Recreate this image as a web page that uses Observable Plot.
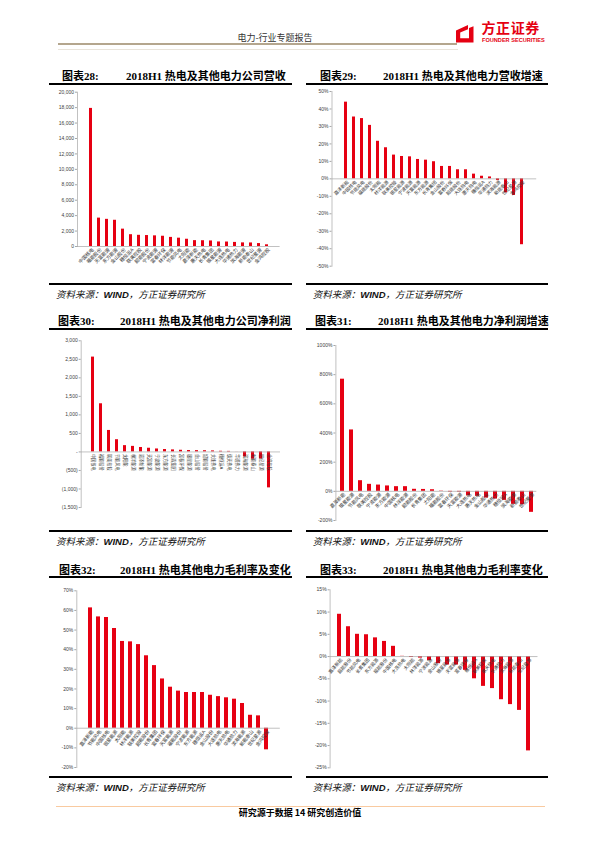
<!DOCTYPE html>
<html><head><meta charset="utf-8">
<script src="https://cdn.jsdelivr.net/npm/d3@7"></script>
<script src="https://cdn.jsdelivr.net/npm/@observablehq/plot@0.6"></script>
<style>
html,body{margin:0;padding:0;background:#fff;}
#page{position:relative;width:600px;height:848px;overflow:hidden;font-family:"Noto Sans CJK SC",sans-serif;background:#fff;}
.box{position:absolute;}
.txt{position:absolute;white-space:nowrap;}
.tt{position:absolute;white-space:nowrap;font-family:"Liberation Serif","Noto Sans CJK SC",serif;font-weight:bold;font-size:11px;line-height:11px;color:#000;}
.src{position:absolute;white-space:nowrap;font-family:"Noto Sans CJK SC",sans-serif;font-style:italic;font-size:9.5px;line-height:10px;color:#111;}
.src b{font-family:"Liberation Sans",sans-serif;font-weight:bold;font-style:italic;}
</style></head>
<body><div id="page"></div>
<script>
// ---------- data ----------
const names28 = ["中国核电","福能股份","天富能源","东方能源","金山股份","穗恒运A","联美控股","韶能股份","宁波能源","富春环保","林洋能源","节能风电","太阳能","嘉泽新能","惠天热电","长青集团","银星能源","大连热电","华通热力","滨海能源","新能泰山","世纪星源","金鸿控股"];
const revenue28 = [17900,3680,3520,3400,2250,1530,1450,1420,1380,1330,1180,1080,940,760,750,720,590,580,530,470,460,380,220];
const ticks28 = [0,2000,4000,6000,8000,10000,12000,14000,16000,18000,20000];

const names29 = ["嘉泽新能","中国核电","节能风电","福能股份","太阳能","林洋能源","联美控股","银星能源","宁波能源","天富能源","东方能源","长青集团","金山股份","富春环保","韶能股份","大连热电","惠天热电","穗恒运A","华通热力","滨海能源","新能泰山","世纪星源","金鸿控股"];
const growth29 = [43.9,35.4,34.5,30.6,21.5,17.8,13.6,12.8,12.6,11.1,10.7,9.8,7.1,7.1,5.2,5.2,2.7,1.5,1.1,-1.0,-8.0,-9.5,-37.7];
const ticks29 = [-50,-40,-30,-20,-10,0,10,20,30,40,50];

const names30 = ["中国核电","福能股份","联美控股","节能风电","太阳能","林洋能源","嘉泽新能","天富能源","宁波能源","东方能源","长青集团","富春环保","银星能源","金山股份","韶能股份","大连热电","穗恒运A","惠天热电","华通热力","滨海能源","新能泰山","世纪星源","金鸿控股"];
const profit30 = [2560,1300,580,330,170,150,120,100,80,65,55,45,38,35,33,28,18,15,2,-135,-195,-190,-970];
const ticks30 = [-1500,-1000,-500,0,500,1000,1500,2000,2500,3000];

const names31 = ["嘉泽新能","银星能源","节能风电","联美控股","宁波能源","东方能源","中国核电","林洋能源","韶能股份","长青集团","太阳能","福能股份","富春环保","天富能源","大连热电","惠天热电","金山股份","华通热力","穗恒运A","滨海能源","新能泰山","世纪星源"];
const growth31 = [769,421,73,48,43,37,32,32,14,13,11,2,-5,-5,-30,-34,-46,-53,-62,-89,-92,-144];
const ticks31 = [-200,0,200,400,600,800,1000];

const names32 = ["嘉泽新能","节能风电","中国核电","银星能源","太阳能","林洋能源","联美控股","韶能股份","长青集团","富春环保","天富能源","福能股份","宁波能源","东方能源","穗恒运A","金山股份","大连热电","惠天热电","华通热力","滨海能源","新能泰山","世纪星源","金鸿控股"];
const margin32 = [61.3,56.7,56.4,50.8,44.2,44.0,42.6,36.9,31.9,25.1,20.9,18.9,18.2,18.2,18.2,16.8,16.1,15.5,14.8,12.6,6.6,6.3,-11.0];
const ticks32 = [-20,-10,0,10,20,30,40,50,60,70];

const names33 = ["嘉泽新能","韶能股份","节能风电","长青集团","东方能源","福能股份","中国核电","大连热电","太阳能","林洋能源","宁波能源","金山股份","银星能源","天富能源","富春环保","穗恒运A","联美控股","惠天热电","华通热力","滨海能源","新能泰山","世纪星源"];
const change33 = [9.5,6.7,5.0,4.9,4.2,3.4,2.3,0.05,-0.2,-0.35,-0.9,-1.6,-1.9,-1.9,-3.1,-5.0,-6.7,-7.2,-9.7,-10.8,-12.1,-21.2];
const ticks33 = [-25,-20,-15,-10,-5,0,5,10,15];

// ---------- page helpers ----------
const page = document.getElementById("page");
function el(cls, html, css) {
  const d = document.createElement("div");
  d.className = cls;
  d.innerHTML = html;
  Object.assign(d.style, css);
  page.appendChild(d);
  return d;
}
function line(left, top, width, height, color) {
  el("box", "", {left: left + "px", top: top + "px", width: width + "px", height: height + "px", background: color});
}

// header
el("txt", "电力-行业专题报告", {left: "237.5px", top: "33px", fontSize: "9px", lineHeight: "10px", color: "#333"});
line(58, 43, 399, 1.5, "#b4a68e");
line(58, 48.5, 400, 1, "#e9e4db");
el("box", '<svg width="20" height="20" viewBox="0 0 20 20"><path fill="#e50012" fill-rule="evenodd" d="M1 7.5 L13 2 L13 6.2 L5.2 9.6 L5.2 15.2 L14 15.2 L14 5 L18.5 3.2 L18.5 19.4 L1 19.4 Z"/></svg>', {left: "455px", top: "22.5px", width: "20px", height: "20px"});
el("txt", "方正证券", {left: "481.5px", top: "20px", fontSize: "14px", lineHeight: "14px", height: "14px", fontWeight: "bold", color: "#e50012", letterSpacing: "0.6px"});
el("txt", "FOUNDER SECURITIES", {left: "482px", top: "38px", fontSize: "5.6px", lineHeight: "5.6px", fontWeight: "bold", color: "#e50012", fontFamily: '"Liberation Sans",sans-serif'});

// footer
line(56, 805.5, 489, 1.5, "#f9caa0");
el("txt", "研究源于数据 14 研究创造价值", {left: "0px", width: "600px", textAlign: "center", top: "808px", fontSize: "9px", lineHeight: "10px", fontWeight: "bold", color: "#000"});

// ---------- chart helper ----------
const fmtComma = d3.format(",");
const fmtPct = d => d + "%";
const fmtAcct = d => d === 0 ? "-" : d < 0 ? "(" + fmtComma(-d) + ")" : fmtComma(d);

function chart(c) {
  const data = c.names.map((name, i) => ({name, value: c.values[i]}));
  const plot = Plot.plot({
    width: c.w, height: c.h,
    marginLeft: c.ml, marginRight: c.mr, marginTop: c.mt, marginBottom: c.mb,
    x: {type: "band", domain: c.names, axis: null, paddingInner: c.pad, paddingOuter: c.pad / 2},
    y: {domain: c.domain, axis: null},
    style: {fontFamily: '"Liberation Sans","Noto Sans CJK SC",sans-serif', overflow: "visible", background: "transparent"},
    marks: [
      Plot.frame({anchor: "left", stroke: "#a6a6a6", strokeWidth: 0.7}),
      Plot.axisY(c.ticks, {label: null, tickFormat: c.fmt, tickSize: 2, tickPadding: 1.5, fontSize: 5, stroke: "#a6a6a6", fill: "#404040"}),
      Plot.barY(data, {x: "name", y: "value", fill: "#e60012"}),
      Plot.ruleY([0], {stroke: "#a6a6a6", strokeWidth: 0.7}),
      Plot.text(data, {x: "name", y: 0, text: "name", rotate: c.rot, textAnchor: c.anchor, dx: c.dx, dy: c.dy, fontSize: c.fs, fill: "#333"})
    ]
  });
  plot.style.position = "absolute";
  plot.style.left = c.left + "px";
  plot.style.top = c.top + "px";
  page.appendChild(plot);
}

function panel(p) {
  el("tt", p.num, {left: p.numX + "px", top: (p.titleY - 5.5) + "px"});
  el("tt", p.title, {left: p.titleX + "px", top: (p.titleY - 5.5) + "px"});
  line(p.x0, p.ulY, p.x1 - p.x0, 2, "#000");
  line(p.x0, p.blY, p.x1 - p.x0, 2, "#000");
  el("src", "资料来源：<b>WIND</b>，方正证券研究所", {left: p.srcX + "px", top: (p.srcY - 5) + "px"});
}

// ---------- panels ----------
panel({num: "图表28:", title: "2018H1 热电及其他电力公司营收", numX: 62, titleX: 126, titleY: 76, x0: 49, x1: 292, ulY: 82.8, blY: 283, srcX: 56, srcY: 294});
panel({num: "图表29:", title: "2018H1 热电及其他电力营收增速", numX: 320, titleX: 383, titleY: 76, x0: 306, x1: 548, ulY: 82.8, blY: 283, srcX: 312.7, srcY: 294});
panel({num: "图表30:", title: "2018H1 热电及其他电力公司净利润", numX: 58, titleX: 120, titleY: 321.7, x0: 49, x1: 292, ulY: 328.3, blY: 529.5, srcX: 56, srcY: 541});
panel({num: "图表31:", title: "2018H1 热电及其他电力净利润增速", numX: 315, titleX: 378, titleY: 321.7, x0: 306, x1: 548, ulY: 328.3, blY: 529.5, srcX: 312.7, srcY: 541});
panel({num: "图表32:", title: "2018H1 热电其他电力毛利率及变化", numX: 59, titleX: 120, titleY: 570, x0: 49, x1: 292, ulY: 576, blY: 776, srcX: 56, srcY: 787});
panel({num: "图表33:", title: "2018H1 热电其他电力毛利率变化", numX: 320, titleX: 383, titleY: 570, x0: 306, x1: 548, ulY: 576, blY: 776, srcX: 312.7, srcY: 787});

chart({names: names28, values: revenue28, ticks: ticks28, fmt: fmtComma, domain: [0, 20000],
  left: 49, top: 86, w: 243, h: 196, ml: 28, mr: 12.4, mt: 5.7, mb: 36, pad: 0.62,
  rot: -45, anchor: "end", dx: 2, dy: 2.5, fs: 4.8});
chart({names: names29, values: growth29, ticks: ticks29, fmt: fmtPct, domain: [-50, 50],
  left: 306, top: 86, w: 242, h: 196, ml: 25.5, mr: 11.8, mt: 5, mb: 16.3, pad: 0.59,
  rot: -45, anchor: "end", dx: 2, dy: 2.5, fs: 4.6});
chart({names: names30, values: profit30, ticks: ticks30, fmt: fmtAcct, domain: [-1500, 3000],
  left: 49, top: 334, w: 243, h: 194, ml: 31.7, mr: 12, mt: 6.3, mb: 21, pad: 0.62,
  rot: 90, anchor: "start", dx: 0, dy: 2, fs: 4.2});
chart({names: names31, values: growth31, ticks: ticks31, fmt: fmtPct, domain: [-200, 1000],
  left: 306, top: 334, w: 242, h: 194, ml: 29.4, mr: 11.7, mt: 11, mb: 8, pad: 0.6,
  rot: -45, anchor: "end", dx: 2, dy: 2.5, fs: 4.8});
chart({names: names32, values: margin32, ticks: ticks32, fmt: fmtPct, domain: [-20, 70],
  left: 49, top: 580, w: 243, h: 196, ml: 27.3, mr: 12.2, mt: 10.3, mb: 9, pad: 0.52,
  rot: -52, anchor: "end", dx: 2, dy: 2.5, fs: 4.8});
chart({names: names33, values: change33, ticks: ticks33, fmt: fmtPct, domain: [-25, 15],
  left: 306, top: 580, w: 242, h: 196, ml: 23.6, mr: 10.5, mt: 9.3, mb: 8.7, pad: 0.54,
  rot: -50, anchor: "end", dx: 2, dy: 2.5, fs: 4.6});
</script>
</body></html>
